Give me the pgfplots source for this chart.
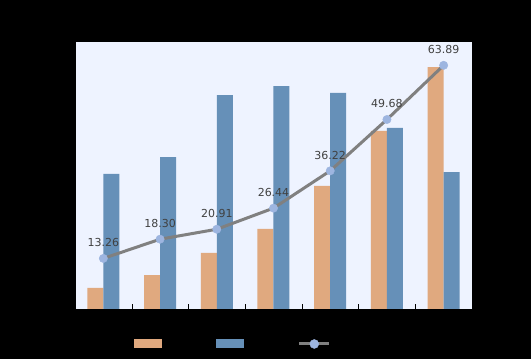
\documentclass[border=0pt]{standalone}
\usepackage{pgfplots}
\pgfplotsset{compat=1.18}
\usepackage{fontspec}
\setmainfont{DejaVu Sans}
\definecolor{bgplot}{HTML}{EEF3FF}
\definecolor{corange}{HTML}{E0A97F}
\definecolor{cblue}{HTML}{6690B8}
\definecolor{cline}{HTML}{808080}
\definecolor{cmark}{HTML}{9DB5E0}
\definecolor{clabel}{HTML}{404040}
\begin{document}
\begin{tikzpicture}[x=1pt,y=1pt]
\fill[black] (0,0) rectangle (531,359);
\begin{axis}[
  at={(75pt,50pt)}, anchor=south west,
  scale only axis, width=397pt, height=267pt,
  xmin=-0.5, xmax=6.5, ymin=0, ymax=100,
  axis background/.style={fill=bgplot},
  axis line style={black},
  ybar=0pt, bar width=16pt,
  xtick={0,...,6}, xticklabels={}, major x tick style={draw=none},
  minor xtick={0.5,1.5,...,5.5},
  minor tick length=5pt,
  tick align=inside,
  axis x line*=bottom, axis y line*=left,
  ytick={0,20,40,60,80,100},
  yticklabel style={black},
  major y tick style={draw=none},
  tick style={black},
  legend columns=3,
  legend style={draw=none, fill=none, inner sep=0pt, font=\small, text=black,
    at={(axis description cs:0.1476,-0.131)}, anchor=west,
    /tikz/every even column/.append style={column sep=50pt}},
  legend image code/.code={\fill[#1] (0pt,-4.5pt) rectangle (28pt,4.5pt);},
]
\addplot[fill=corange, draw=none] coordinates {(0,7.9) (1,12.7) (2,21.0) (3,30.0) (4,46.1) (5,66.7) (6,90.6)};
\addlegendentry{}
\addplot[fill=cblue, draw=none] coordinates {(0,50.6) (1,56.9) (2,80.1) (3,83.5) (4,80.9) (5,67.8) (6,51.3)};
\addlegendentry{}
\addlegendimage{legend image code/.code={\draw[cline, line width=3pt] (-2pt,0pt) -- (28pt,0pt); \fill[cmark] (13pt,0pt) circle (4.5pt);}}
\addlegendentry{}
\end{axis}
\begin{axis}[
  at={(75pt,50pt)}, anchor=south west,
  scale only axis, width=397pt, height=267pt,
  xmin=-0.5, xmax=6.5, ymin=0, ymax=70,
  axis x line=none, axis y line*=right,
  axis line style={black}, tick style={draw=none},
  yticklabel style={black},
  ytick={0,10,...,70},
]
\addplot[cline, line width=3pt, mark=*, mark size=4.2pt,
  mark options={solid, fill=cmark, draw=cmark, line width=0.4pt},
  nodes near coords, point meta=explicit symbolic,
  every node near coord/.append style={font=\fontsize{11}{13}\selectfont, text=clabel, anchor=south, yshift=8pt}]
  coordinates {(0,13.26)[13.26] (1,18.30)[18.30] (2,20.91)[20.91] (3,26.44)[26.44] (4,36.22)[36.22] (5,49.68)[49.68] (6,63.89)[63.89]};
\end{axis}
\pgfresetboundingbox
\useasboundingbox (0,0) rectangle (531,359);
\end{tikzpicture}
\end{document}
